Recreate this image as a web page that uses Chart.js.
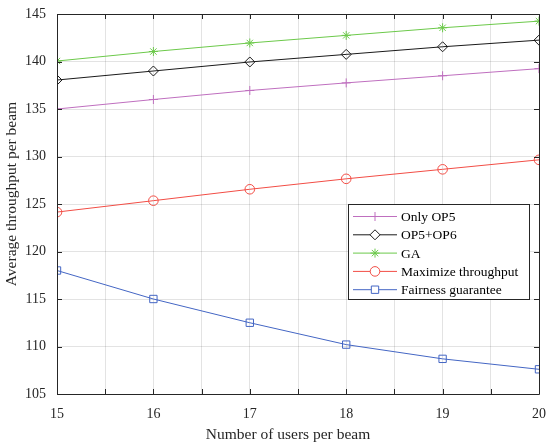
<!DOCTYPE html>
<html>
<head>
<meta charset="utf-8">
<script src="https://cdn.jsdelivr.net/npm/chart.js@4"></script>
<style>
  html, body { margin: 0; padding: 0; background: #fff; }
  #wrap { width: 550px; height: 448px; }
</style>
</head>
<body>
<div id="wrap"><canvas id="thrChart" width="550" height="448"></canvas></div>
<script>
// data
const users = [15, 16, 17, 18, 19, 20];
const onlyOP5 = [135.0, 136.0, 136.95, 137.75, 138.5, 139.25];
const op5op6 = [138.05, 139.0, 139.95, 140.75, 141.55, 142.25];
const ga = [140.05, 141.05, 141.95, 142.75, 143.55, 144.25];
const maxThroughput = [124.15, 125.35, 126.55, 127.65, 128.65, 129.65];
const fairness = [118.0, 115.0, 112.5, 110.2, 108.7, 107.6];
const seriesNames = ['Only OP5', 'OP5+OP6', 'GA', 'Maximize throughput', 'Fairness guarantee'];
const xTicks = [15, 16, 17, 18, 19, 20];
const yTicks = [105, 110, 115, 120, 125, 130, 135, 140, 145];
const xTitle = 'Number of users per beam';
const yTitle = 'Average throughput per beam';

const FONT = "'Liberation Serif', 'Times New Roman', serif";
const AXIS = '#262626';

function pts(ys) {
    return users.map((u, i) => ({ x: u, y: ys[i] }));
}

function ds(label, ys, color, style, radius) {
    return {
        label: label,
        data: pts(ys),
        borderColor: color,
        backgroundColor: 'rgba(0,0,0,0)',
        borderWidth: 1,
        pointStyle: style,
        pointRadius: radius,
        pointBorderColor: color,
        pointBackgroundColor: 'rgba(0,0,0,0)',
        pointBorderWidth: 1,
        tension: 0
    };
}

// keep the plot box where it is in the original, labels may overhang
function fixSize(s, w, h) {
    if (w) s.width = w;
    if (h) s.height = h;
    s.paddingLeft = s.paddingRight = s.paddingTop = s.paddingBottom = 0;
}

// box, inner ticks, axis titles and legend like the matlab figure
const matlabBox = {
    id: 'matlabBox',
    afterDraw(chart) {
        const ctx = chart.ctx;
        const a = chart.chartArea;
        const xs = chart.scales.x, ys = chart.scales.y;
        ctx.save();
        ctx.strokeStyle = AXIS;
        ctx.lineWidth = 1;
        ctx.beginPath();
        ctx.rect(Math.round(a.left) + 0.5, Math.round(a.top) + 0.5,
                 Math.round(a.right - a.left), Math.round(a.bottom - a.top));
        ctx.stroke();

        ctx.beginPath();
        for (let v = 15; v <= 20.001; v += 0.5) {
            const px = Math.round(xs.getPixelForValue(v)) + 0.5;
            ctx.moveTo(px, a.bottom); ctx.lineTo(px, a.bottom - 5);
            ctx.moveTo(px, a.top); ctx.lineTo(px, a.top + 5);
        }
        yTicks.forEach(v => {
            const py = Math.round(ys.getPixelForValue(v)) + 0.5;
            ctx.moveTo(a.left, py); ctx.lineTo(a.left + 5, py);
            ctx.moveTo(a.right, py); ctx.lineTo(a.right - 5, py);
        });
        ctx.stroke();

        // axis titles (sit a bit off centre in the original)
        ctx.fillStyle = AXIS;
        ctx.font = '15.5px ' + FONT;
        ctx.textAlign = 'center';
        ctx.textBaseline = 'middle';
        ctx.fillText(xTitle, (a.left + a.right) / 2 - 10, 435);
        ctx.save();
        ctx.translate(12, (a.top + a.bottom) / 2 - 10);
        ctx.rotate(-Math.PI / 2);
        ctx.fillText(yTitle, 0, 0);
        ctx.restore();

        // legend
        const lx = 348, ly = 204, lw = 181, lh = 95;
        ctx.fillStyle = '#fff';
        ctx.fillRect(lx, ly, lw, lh);
        ctx.strokeStyle = AXIS;
        ctx.strokeRect(lx + 0.5, ly + 0.5, lw, lh);
        ctx.font = '13.5px ' + FONT;
        ctx.textAlign = 'left';
        ctx.textBaseline = 'middle';
        chart.data.datasets.forEach((d, i) => {
            const ry = ly + 12.5 + i * 18.3;
            ctx.strokeStyle = d.borderColor;
            ctx.lineWidth = 1;
            ctx.beginPath();
            ctx.moveTo(lx + 5, ry); ctx.lineTo(lx + 49, ry);
            ctx.stroke();
            ctx.fillStyle = '#fff';
            Chart.helpers.drawPoint(ctx, {
                pointStyle: d.pointStyle,
                radius: d.pointRadius,
                borderWidth: 1
            }, lx + 27, ry);
            ctx.fillStyle = '#000';
            ctx.fillText(d.label, lx + 53, ry + 1);
        });
        ctx.restore();
    }
};

new Chart(document.getElementById('thrChart'), {
    type: 'line',
    data: {
        datasets: [
            ds(seriesNames[0], onlyOP5, '#bf6fbf', 'cross', 4.5),
            ds(seriesNames[1], op5op6, '#1a1a1a', 'rectRot', 5),
            ds(seriesNames[2], ga, '#6cc94a', 'star', 4.5),
            ds(seriesNames[3], maxThroughput, '#f24d45', 'circle', 4.8),
            ds(seriesNames[4], fairness, '#4466c4', 'rect', 5.2)
        ]
    },
    options: {
        responsive: false,
        animation: false,
        devicePixelRatio: 1,
        layout: { padding: { top: 14, right: 11, left: 0, bottom: 0 } },
        plugins: {
            legend: { display: false },
            tooltip: { enabled: false }
        },
        scales: {
            x: {
                type: 'linear',
                min: 15,
                max: 20,
                afterFit: s => fixSize(s, 0, 54),
                afterBuildTicks: s => {
                    const t = [];
                    for (let v = 15; v <= 20.001; v += 0.5) t.push({ value: v });
                    s.ticks = t;
                },
                ticks: {
                    autoSkip: false,
                    maxRotation: 0,
                    padding: 12,
                    color: AXIS,
                    font: { family: FONT, size: 14 },
                    callback: v => xTicks.includes(v) ? String(v) : ''
                },
                grid: { color: 'rgba(38,38,38,0.13)', drawTicks: false },
                border: { display: false }
            },
            y: {
                min: 105,
                max: 145,
                afterFit: s => fixSize(s, 57, 0),
                afterBuildTicks: s => { s.ticks = yTicks.map(v => ({ value: v })); },
                ticks: {
                    padding: 11,
                    color: AXIS,
                    font: { family: FONT, size: 14 }
                },
                grid: { color: 'rgba(38,38,38,0.13)', drawTicks: false },
                border: { display: false }
            }
        }
    },
    plugins: [matlabBox]
});
</script>
</body>
</html>
